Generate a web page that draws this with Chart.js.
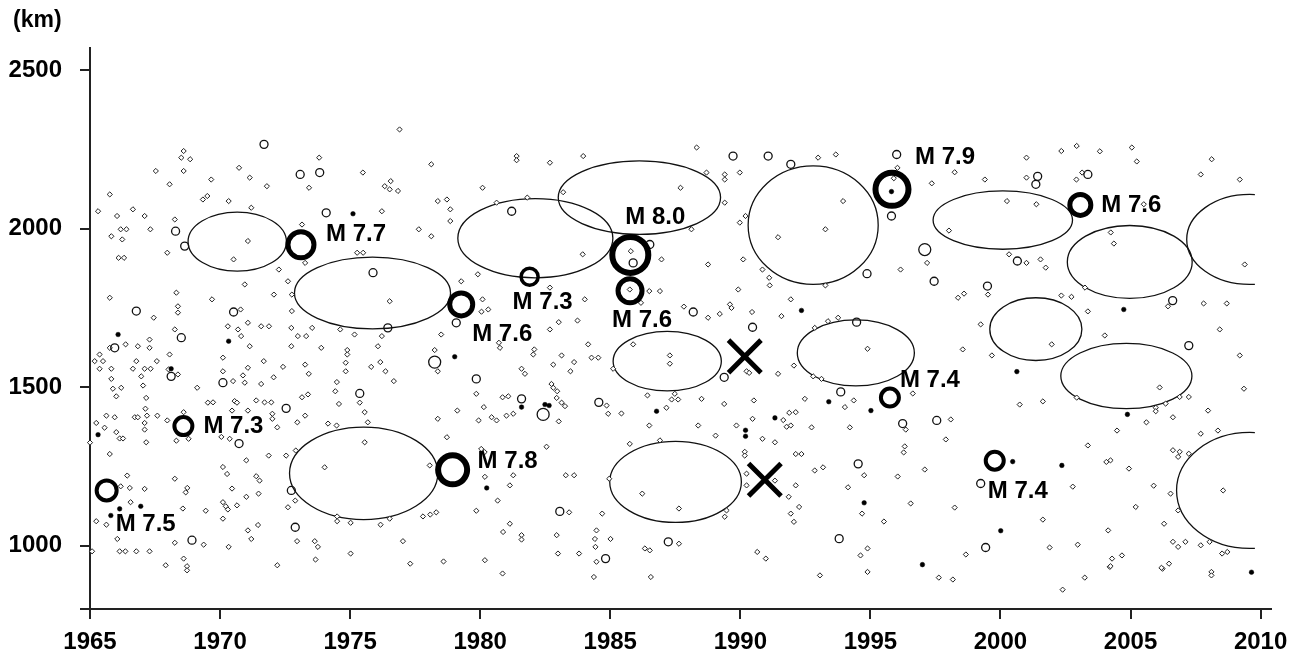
<!DOCTYPE html>
<html><head><meta charset="utf-8">
<script src="https://cdn.jsdelivr.net/npm/chart.js@4.4.1/dist/chart.umd.min.js"></script>
<style>html,body{margin:0;padding:0;background:#fff;}#wrap{width:1302px;height:655px;position:relative;}</style>
</head><body><div id="wrap"><canvas id="c"></canvas></div>
<script>
// ---- axis values ----
const xTickValues = [1965,1970,1975,1980,1985,1990,1995,2000,2005,2010];
const yTickValues = [1000,1500,2000,2500];
const xMin = 1965, xMax = 2010.4, yMin = 800, yMax = 2570;
const yUnitLabel = '(km)';

// ---- large earthquakes ----
const quakeYears = [1965.64,1968.59,1973.11,1978.94,1979.27,1981.90,1985.77,1985.76,1995.83,2003.07,1995.75,1999.78];
const quakeKm    = [1174,1377,1949,1239,1761,1848,1917,1804,2124,2075,1467,1268];
const quakeMag   = ['7.5','7.3','7.7','7.8','7.6','7.3','8.0','7.6','7.9','7.6','7.4','7.4'];

// ---- cross marks ----
const crossYears = [1990.17,1990.94];
const crossKm    = [1597,1208];

// ---- gap ellipses (centre, half-extent) ----
const gapYear     = [1970.66,1975.86,1975.52,1982.12,1986.12,1987.19,1987.51,1992.80,1994.44,2000.09,2001.36,2004.97,2004.84,2009.58,2009.58];
const gapKm       = [1959,1797,1228,1970,2098,1582,1201,2011,1608,2027,1683,1895,1535,1174,1966];
const gapHalfYear = [1.89,3.00,2.85,2.98,3.12,2.08,2.53,2.50,2.25,2.68,1.77,2.40,2.52,2.81,2.42];
const gapHalfKm   = [93,113,146,125,116,94,128,187,104,92,99,115,103,183,142];
const gapClipYear = 2009.78;

// ---- small events [year, km] ----
const smallEvents = [
[1976.90,2313],[1968.60,2245],[1968.51,2224],[1968.85,2219],[1967.53,2182],[1968.60,2182],[1970.73,2192],[1971.14,2161],[1969.66,2155],[1968.06,2140],
[1971.80,2134],[1973.81,2224],[1973.42,2129],[1975.49,2177],[1978.12,2203],[1976.56,2150],[1976.33,2134],[1976.52,2124],[1976.84,2119],[1965.76,2108],
[1969.34,2092],[1969.51,2103],[1970.33,2087],[1978.37,2087],[1978.72,2092],[1965.31,2055],[1966.65,2061],[1966.04,2040],[1967.10,2040],[1971.20,2066],
[1976.22,2055],[1978.85,2061],[1968.26,2029],[1978.85,2024],[1966.18,1998],[1966.40,1998],[1967.32,1998],[1973.15,2013],[1965.82,1976],[1966.24,1966],
[1977.64,1998],[1978.12,1976],[1971.07,1961],[1967.97,1924],[1966.10,1908],[1966.31,1908],[1970.52,1903],[1973.27,1892],[1975.27,1924],[1975.50,1924],
[1972.26,1871],[1979.91,1856],[1970.95,1824],[1972.61,1834],[1979.27,1834],[1968.32,1798],[1965.76,1782],[1969.69,1777],[1972.07,1792],[1972.76,1792],
[1976.52,1771],[1968.38,1755],[1968.38,1735],[1967.45,1719],[1970.79,1745],[1972.76,1740],[1971.07,1703],[1970.30,1692],[1970.69,1682],[1970.81,1661],
[1971.58,1692],[1971.88,1692],[1972.74,1687],[1973.54,1687],[1968.26,1682],[1967.29,1650],[1967.29,1624],[1966.37,1635],[1966.84,1629],[1972.99,1661],
[1973.31,1661],[1974.62,1682],[1975.17,1666],[1976.22,1661],[1978.50,1666],[1971.14,1629],[1972.74,1629],[1973.89,1624],[1974.89,1617],[1974.89,1603],
[1976.07,1629],[1978.25,1617],[1968.06,1603],[1965.37,1603],[1965.76,1624],
[1965.18,1582],[1965.50,1582],[1965.37,1558],[1965.82,1558],[1966.65,1558],[1967.10,1558],[1967.33,1558],[1966.78,1582],[1968.02,1556],[1968.38,1540],
[1967.57,1582],[1970.11,1593],[1970.11,1550],[1971.07,1561],[1971.68,1582],[1972.42,1564],[1973.27,1571],[1973.41,1542],[1974.83,1577],[1974.83,1550],
[1975.81,1564],[1976.16,1579],[1976.36,1550],[1976.68,1519],[1978.37,1550],[1965.82,1526],[1966.97,1534],[1965.88,1495],[1966.20,1498],[1967.04,1505],
[1966.01,1471],[1967.16,1466],[1969.12,1498],[1970.88,1537],[1970.95,1514],[1971.58,1510],[1972.06,1531],[1974.49,1516],[1974.43,1487],[1973.38,1477],
[1973.15,1468],[1970.50,1519],[1979.85,1479],[1969.53,1451],[1969.73,1452],[1970.56,1456],[1970.65,1451],[1971.39,1458],[1971.71,1452],[1971.97,1452],
[1974.57,1447],[1975.37,1451],[1980.14,1437],[1967.13,1432],[1965.63,1410],[1965.95,1405],[1966.72,1405],[1966.84,1405],[1967.19,1410],[1967.59,1410],
[1965.24,1387],[1965.56,1372],[1967.10,1387],[1967.10,1366],[1967.97,1395],[1968.60,1421],[1970.46,1426],[1971.07,1426],[1972.01,1416],[1972.01,1400],
[1972.20,1373],[1972.97,1389],[1973.27,1410],[1974.15,1385],[1974.48,1379],[1975.56,1421],[1975.68,1389],[1978.37,1400],[1979.12,1426],[1979.94,1395],
[1966.01,1358],[1966.14,1338],[1966.27,1338],[1967.16,1326],[1968.32,1331],[1968.79,1337],[1970.05,1343],[1970.37,1337],[1978.72,1342],[1965.76,1289],
[1971.01,1269],[1971.87,1284],[1972.54,1284],[1972.91,1300],[1975.56,1326],[1980.04,1305],[1980.17,1295],[1974.02,1247],[1970.11,1248],[1970.27,1226],
[1978.06,1253],[1966.43,1221],[1966.18,1187],[1966.53,1182],[1967.10,1179],[1968.26,1211],[1968.74,1182],[1968.68,1168],[1971.39,1219],[1971.52,1205],
[1970.46,1180],[1971.48,1164],[1971.01,1154],[1972.89,1142],[1972.61,1121],[1966.56,1137],[1970.11,1137],[1970.22,1124],[1970.30,1114],[1970.65,1127],
[1969.45,1110],[1968.57,1117],[1965.24,1077],[1965.63,1066],[1970.11,1085],[1974.50,1092],[1974.50,1077],[1975.02,1072],[1976.17,1066],[1976.52,1085],
[1977.80,1092],[1978.08,1098],[1978.31,1105],[1979.85,1110],[1966.05,1021],[1968.26,1009],[1969.37,1003],[1970.33,996],[1971.07,1048],[1971.20,1021],
[1971.46,1065],[1972.96,1014],[1973.64,1014],[1973.76,996],[1975.02,975],[1977.03,1014],[1965.08,982],[1966.14,982],[1966.36,982],[1966.78,982],
[1967.29,982],[1967.91,938],[1968.60,959],[1968.73,935],[1968.73,922],[1972.20,938],[1973.67,956],[1977.31,943],[1978.59,950],[1965.00,1325],
[1988.32,2256],[1981.40,2229],[1981.40,2216],[1982.68,2208],[1983.96,2229],[1980.09,2129],[1981.81,2098],[1980.63,2082],[1988.70,2177],[1989.40,2171],
[1989.40,2155],[1989.98,2177],[1992.99,2224],[1993.67,2234],[1987.70,2129],[1989.40,2082],[1983.19,2115],[1989.98,2019],[1990.20,2040],[1993.95,2087],
[1993.27,1998],[1991.45,1973],[1988.12,1998],[1983.94,1919],[1985.79,1929],[1986.97,1903],[1988.76,1887],[1990.11,1903],[1990.85,1871],[1991.11,1845],
[1991.13,1821],[1993.27,1821],[1985.75,1808],[1986.50,1803],[1986.91,1803],[1986.18,1766],[1989.92,1808],[1991.94,1777],[1980.09,1777],[1980.31,1745],
[1980.05,1738],[1984.02,1777],[1982.68,1814],[1987.83,1754],[1988.76,1719],[1989.21,1731],[1989.60,1761],[1989.66,1750],[1990.45,1737],[1991.58,1724],
[1993.37,1708],[1993.76,1719],[1992.86,1687],[1983.74,1710],[1983.02,1705],[1982.68,1682],[1980.72,1640],[1980.76,1624],[1984.15,1635],[1985.88,1635],
[1987.29,1600],[1982.08,1619],[1982.04,1603],[1983.13,1600],[1984.28,1593],[1984.54,1593],[1994.89,1621],
[1982.81,1571],[1983.61,1579],[1983.47,1550],[1981.59,1558],[1981.72,1542],[1987.29,1574],[1985.11,1558],[1982.74,1510],[1982.81,1498],[1982.96,1487],
[1982.94,1466],[1983.13,1451],[1983.26,1440],[1980.86,1468],[1981.08,1471],[1980.44,1405],[1980.63,1395],[1981.01,1410],[1981.27,1416],[1983.02,1392],
[1984.86,1442],[1984.92,1416],[1985.43,1417],[1986.43,1474],[1987.48,1479],[1987.36,1461],[1987.61,1461],[1987.16,1435],[1988.51,1463],[1989.38,1447],
[1990.52,1458],[1986.50,1379],[1988.38,1379],[1989.05,1347],[1989.85,1379],[1990.47,1400],[1990.85,1337],[1991.33,1326],[1991.65,1396],[1991.78,1375],
[1991.94,1379],[1992.13,1421],[1991.88,1419],[1992.48,1463],[1992.74,1373],[1994.21,1373],[1994.02,1437],[1994.36,1458],[1992.80,1534],[1993.12,1526],
[1991.45,1542],[1992.06,1568],[1990.24,1550],[1990.34,1545],[1982.55,1312],[1985.75,1321],[1986.91,1332],[1980.18,1217],[1981.27,1222],[1981.14,1190],
[1983.29,1222],[1983.61,1222],[1984.96,1211],[1986.23,1164],[1987.64,1117],[1989.47,1111],[1989.40,1091],[1990.24,1227],[1990.24,1190],[1991.33,1205],
[1992.13,1289],[1992.35,1289],[1992.13,1190],[1991.86,1154],[1992.86,1237],[1993.18,1247],[1994.14,1184],[1994.76,1222],[1992.26,1122],[1991.94,1101],
[1992.06,1075],[1994.68,1101],[1980.67,1142],[1980.88,1043],[1981.14,1069],[1981.59,1033],[1981.59,1019],[1982.94,1033],[1984.69,1101],[1984.47,1048],
[1984.41,1021],[1985.01,1021],[1984.43,996],[1982.99,975],[1983.80,975],[1984.47,949],[1986.33,991],[1986.52,985],[1987.64,1006],[1980.18,954],
[1980.86,912],[1984.37,901],[1986.56,901],[1990.65,980],[1990.98,959],[1993.06,906],[1994.89,917],[1994.89,991],[1994.62,969],[1983.42,1105],
[1990.17,1296],[1990.17,1284],
[1996.04,2192],[1995.90,2159],[1997.36,2143],[1998.24,2178],[1999.40,2155],[2001.00,2224],[2002.34,2245],[2002.93,2261],[2001.00,2161],[2002.92,2155],
[2003.14,2177],[2000.25,2087],[2001.38,2077],[1998.02,1994],[2000.33,1919],[2001.00,1892],[2001.54,1903],[2001.74,1877],[1997.18,1892],[1996.16,1871],
[1998.60,1795],[1998.37,1782],[1999.52,1792],[2002.34,1789],[2002.73,1785],[2003.25,1814],
[2009.36,1495],[2007.24,1469],[2006.89,1469],[2006.35,1448],[2005.97,1435],[2005.97,1424],[2007.98,1426],[2006.63,1405],[2005.61,1389],[2004.48,1363],
[2007.70,1353],[2008.36,1363],[2006.63,1301],[2006.89,1296],[2006.83,1280],[2007.24,1290],[2004.07,1264],[2004.23,1269],[2004.94,1243],[2008.56,1174],
[2005.89,1189],[2006.54,1164],[2005.20,1122],[2006.83,1111],[2006.29,1069],[2004.14,1048],[2006.63,1012],[2006.83,996],[2007.11,1012],[2007.70,1001],
[2008.04,1012],[2008.52,975],[2008.72,980],[2004.29,959],[2004.67,969],[2004.20,933],[2006.48,943],[2006.23,927],[2008.11,917],[2008.11,906],
[2004.23,935],[2006.19,930],
[1996.36,1366],[1996.32,1313],[1996.28,1294],[1997.90,1335],[1998.09,1398],[1996.63,1480],[1996.05,1218],[1996.55,1133],[1995.52,1076],[1998.24,1120],
[1998.67,972],[1998.17,893],[2001.63,1455],[2002.93,1467],[2003.36,1316],[2002.78,1186],[2001.63,1082],[2001.89,994],[2002.97,1003],[2003.24,899],
[2002.39,861],[1999.67,1600],[1998.55,1619],[1999.24,1698],[2001.97,1635],[2003.36,1739],[1997.63,899],[1997.09,1240],[2000.74,1445],
[2005.05,2256],[2005.24,2212],[2008.12,2219],[2007.70,2171],[2004.24,1988],[2004.36,1953],[2005.51,2077],[2007.81,1764],[2008.43,1682],[2009.20,1600],
[2006.44,1755],[2008.70,1764],[2004.01,1663],[2006.12,1499],[2009.39,1887],[2003.82,2244],[2009.20,2155]
];

// ---- small open circles [year, km] ----
const openEvents = [
[1971.69,2266],[1973.08,2171],[1973.83,2177],[1974.08,2050],[1968.29,1992],[1968.64,1945],[1975.88,1861],[1966.78,1740],[1970.52,1737],[1968.51,1656],
[1965.95,1624],[1979.08,1703],[1976.45,1687],[1968.12,1534],[1979.85,1526],[1970.11,1514],[1975.37,1480],[1972.54,1433],[1970.73,1322],[1972.74,1174],
[1972.89,1058],[1968.92,1017],[1981.21,2055],[1989.72,2229],[1991.07,2229],[1991.94,2203],[1994.87,1858],[1988.19,1737],[1990.47,1689],[1994.47,1705],
[1985.88,1892],[1986.52,1950],[1981.59,1463],[1984.56,1452],[1989.38,1531],[1993.86,1485],[1994.53,1258],[1993.80,1022],[1987.23,1012],[1984.82,959],
[1983.06,1108],[1996.01,2234],[2001.43,2165],[2001.36,2140],[2003.36,2171],[1995.81,2040],[1997.45,1834],[1999.50,1819],[2000.65,1898],
[1996.24,1385],[1997.55,1395],[1999.24,1196],[1999.43,994],[2006.62,1773],[2007.24,1631]
];
// larger open circles
const openLargeEvents = [[1978.25,1579],[1982.42,1414],[1997.09,1934]];

// ---- filled small events [year, km] ----
const filledEvents = [
[1975.11,2047],[1966.08,1666],[1970.33,1645],[1979.02,1596],[1966.95,1124],[1966.14,1116],[1965.80,1095],[1965.31,1350],[1968.12,1558],[1981.59,1437],
[1986.78,1424],[1991.33,1403],[1990.20,1364],[1990.20,1345],[1993.40,1454],[1995.02,1426],[1994.76,1135],[1980.25,1182],[1982.49,1445],[1982.65,1442],
[1992.35,1742],[1995.81,2117],[2004.88,1414],[2009.65,916],[1997.00,940],
[2000.01,1047],[2000.47,1265],[2002.36,1253],[2000.63,1549],[2004.74,1745]
];

// ---- styles (not data) ----
const quakeRadius = [10,9,13,14.5,11.5,8.5,18,12,16.5,10.5,9,9];
const quakeLine   = [4,4,5,6,5,3.5,6,5,6,5,4,4];
const quakeLabelOffset = [[9,34],[20,0],[25,-10],[25,-8],[11,30],[-17,26],[-5,-38],[-18,30],[23,-32],[21,0],[10,-17],[-7,31]];
const FONT = 'Arial, "Liberation Sans", sans-serif';

const pairs = arr => arr.map(p => ({x:p[0], y:p[1]}));
const zipXY = (xs, ys) => xs.map((x,i) => ({x, y:ys[i]}));

const ellipsePlugin = {
  id:'gaps',
  beforeDatasetsDraw(chart){
    const {ctx, chartArea, scales:{x, y}} = chart;
    ctx.save();
    ctx.beginPath();
    ctx.rect(chartArea.left, chartArea.top, x.getPixelForValue(gapClipYear) - chartArea.left, chartArea.bottom - chartArea.top);
    ctx.clip();
    ctx.strokeStyle = '#111';
    ctx.lineWidth = 1.3;
    for (let i=0;i<gapYear.length;i++){
      const cx = x.getPixelForValue(gapYear[i]);
      const cy = y.getPixelForValue(gapKm[i]);
      const rx = Math.abs(x.getPixelForValue(gapYear[i]+gapHalfYear[i]) - cx);
      const ry = Math.abs(y.getPixelForValue(gapKm[i]+gapHalfKm[i]) - cy);
      ctx.beginPath();
      ctx.ellipse(cx, cy, rx, ry, 0, 0, Math.PI*2);
      ctx.stroke();
    }
    ctx.restore();
  }
};

const labelPlugin = {
  id:'labels',
  afterDatasetsDraw(chart){
    const {ctx, scales:{x, y}} = chart;
    ctx.save();
    ctx.fillStyle = '#000';
    ctx.font = 'bold 24px ' + FONT;
    ctx.textAlign = 'left';
    ctx.textBaseline = 'middle';
    for (let i=0;i<quakeYears.length;i++){
      const px = x.getPixelForValue(quakeYears[i]) + quakeLabelOffset[i][0];
      const py = y.getPixelForValue(quakeKm[i]) + quakeLabelOffset[i][1];
      ctx.fillText('M ' + quakeMag[i], px, py);
    }
    ctx.font = 'bold 23px ' + FONT;
    ctx.fillText(yUnitLabel, 13, 21);
    ctx.restore();
  }
};

const axisGrid = {drawOnChartArea:false, drawTicks:true, tickLength:10, color:'#222', lineWidth:2};
const axisBorder = {display:true, color:'#222', width:2};
const tickFont = {family:FONT, size:24, weight:'bold'};

new Chart(document.getElementById('c'), {
  type:'scatter',
  data:{datasets:[
    {label:'cross', data:zipXY(crossYears, crossKm), order:0, pointStyle:'crossRot', pointRadius:23, pointBorderWidth:5, pointBorderColor:'#000', pointBackgroundColor:'#000', clip:false},
    {label:'quakes', data:zipXY(quakeYears, quakeKm), order:1, pointStyle:'circle',
      pointRadius:c=>quakeRadius[c.dataIndex], pointBorderWidth:c=>quakeLine[c.dataIndex],
      pointBorderColor:'#000', pointBackgroundColor:'rgba(0,0,0,0)', clip:false},
    {label:'filled', data:pairs(filledEvents), order:2, pointStyle:'circle', pointRadius:2.3, pointBorderWidth:0.5, pointBorderColor:'#000', pointBackgroundColor:'#000', clip:false},
    {label:'openLarge', data:pairs(openLargeEvents), order:3, pointStyle:'circle', pointRadius:6, pointBorderWidth:1.3, pointBorderColor:'#111', pointBackgroundColor:'rgba(0,0,0,0)', clip:false},
    {label:'open', data:pairs(openEvents), order:3, pointStyle:'circle', pointRadius:4, pointBorderWidth:1.3, pointBorderColor:'#111', pointBackgroundColor:'rgba(0,0,0,0)', clip:false},
    {label:'small', data:pairs(smallEvents), order:4, pointStyle:'rectRot', pointRadius:2.6, pointBorderWidth:1, pointBorderColor:'#222', pointBackgroundColor:'#fff', clip:false}
  ]},
  options:{
    responsive:true, maintainAspectRatio:false, animation:false, events:[],
    layout:{padding:{top:48, right:31, left:0, bottom:0}},
    plugins:{legend:{display:false}, tooltip:{enabled:false}, title:{display:false}},
    scales:{
      x:{type:'linear', min:xMin, max:xMax,
        afterBuildTicks:s=>{s.ticks = xTickValues.map(v=>({value:v}));},
        afterFit:s=>{s.height = 46;},
        ticks:{font:tickFont, color:'#000', padding:9, maxRotation:0, autoSkip:false, callback:v=>String(v)},
        grid:axisGrid, border:axisBorder},
      y:{type:'linear', min:yMin, max:yMax,
        afterBuildTicks:s=>{s.ticks = [yMin].concat(yTickValues).map(v=>({value:v}));},
        afterFit:s=>{s.width = 90;},
        ticks:{font:tickFont, color:'#000', padding:18, autoSkip:false, callback:v=>(v===yMin?'':String(v))},
        grid:axisGrid, border:axisBorder}
    }
  },
  plugins:[ellipsePlugin, labelPlugin]
});
</script>
</body></html>
